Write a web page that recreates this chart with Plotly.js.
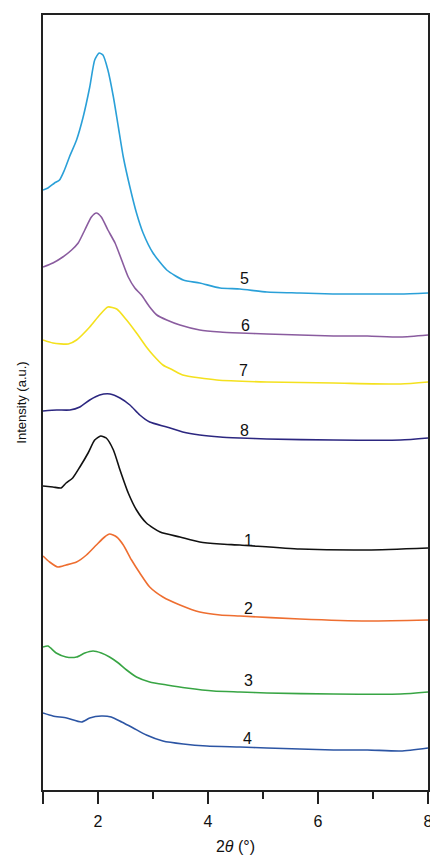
<!DOCTYPE html>
<html>
<head>
<meta charset="utf-8">
<script src="https://cdn.plot.ly/plotly-3.0.1.min.js"></script>
<style>html,body{margin:0;padding:0;background:#fff;}#chart{width:430px;height:855px;}</style>
</head>
<body>
<div id="chart"></div>
<script>
// Sample curves (2θ in degrees, intensity in arbitrary offset units)
const x5 = [1.0,1.09,1.21,1.30,1.39,1.48,1.61,1.73,1.85,1.94,2.02,2.09,2.18,2.28,2.37,2.46,2.58,2.70,2.82,3.00,3.25,3.55,3.85,4.22,4.58,5.07,5.67,6.27,6.89,7.49,8.0];
const y5 = [600,602,607,610,620,633,650,673,703,730,737,735,720,693,663,633,603,577,557,537,520,510,507,502,501,498,497,496,496,496,497];

const x6 = [1.0,1.18,1.36,1.52,1.64,1.76,1.88,1.97,2.06,2.18,2.31,2.43,2.55,2.67,2.79,2.94,3.07,3.25,3.49,3.85,4.22,4.58,5.07,5.67,6.28,6.90,7.50,8.0];
const y6 = [523,527,533,540,547,560,573,577,573,560,547,530,513,502,495,483,475,470,465,460,458,457,456,455,454,454,453,455];

const x7 = [1.0,1.18,1.46,1.61,1.85,2.03,2.18,2.34,2.52,2.70,2.88,3.00,3.18,3.36,3.54,4.16,5.07,6.28,7.50,8.0];
const y7 = [450,447,446,450,463,475,483,481,470,457,443,435,425,420,415,410,408,407,406,408];

const x8 = [1.0,1.25,1.49,1.67,1.85,2.03,2.22,2.40,2.58,2.76,2.94,3.25,3.54,3.85,4.22,4.58,5.07,6.28,7.50,8.0];
const y8 = [379,380,380,383,390,395,396,392,385,375,368,363,358,355,353,352,351,350,350,352];

const x1 = [1.0,1.18,1.33,1.42,1.54,1.67,1.82,1.94,2.05,2.15,2.28,2.40,2.55,2.70,2.88,3.13,3.49,3.85,4.22,4.58,5.67,6.90,8.0];
const y1 = [304,303,302,307,312,323,337,350,354,352,340,320,297,280,267,258,253,248,246,245,241,240,242];

const x2 = [1.0,1.12,1.27,1.42,1.61,1.79,1.97,2.12,2.21,2.34,2.46,2.61,2.76,2.94,3.18,3.49,3.85,4.22,4.58,5.67,6.90,8.0];
const y2 = [234,228,223,225,228,235,245,253,256,253,245,230,217,203,193,185,178,175,174,171,169,170];

const x3 = [1.0,1.09,1.24,1.42,1.61,1.76,1.91,2.06,2.21,2.37,2.52,2.70,2.94,3.25,3.61,4.10,4.58,5.07,6.28,7.50,8.0];
const y3 = [143,144,137,133,133,137,139,137,133,127,120,113,108,105,102,99,98,97,96,96,98];

const x4 = [1.0,1.18,1.43,1.70,1.85,2.06,2.24,2.43,2.64,2.88,3.18,3.55,3.98,4.58,5.07,5.67,6.28,6.90,7.50,8.0];
const y4 = [77,74,72,68,72,74,73,68,62,55,49,46,44,43,42,41,40,40,39,42];

const names = ["5","6","7","8","1","2","3","4"];
const colors = ["#2aa0d8","#8a5c9f","#f4e11e","#2c2780","#111111","#ee6e30","#38a544","#2c55a4"];
const xs = [x5,x6,x7,x8,x1,x2,x3,x4];
const ys = [y5,y6,y7,y8,y1,y2,y3,y4];

// Curve label positions
const labelX = [4.67,4.69,4.64,4.67,4.73,4.73,4.73,4.71];
const labelY = [512,465,420,360,250,182,110,52];

const traces = names.map((n,i)=>({
  x: xs[i], y: ys[i], name: n, type: "scatter", mode: "lines",
  line: {color: colors[i], width: 1.6, shape: "spline", smoothing: 0.6},
  hoverinfo: "skip"
}));

const annotations = names.map((n,i)=>({
  x: labelX[i], y: labelY[i], xref: "x", yref: "y", text: n, showarrow: false,
  font: {family: "Liberation Sans, Arial, sans-serif", size: 16, color: "#111"}
}));

const layout = {
  width: 430, height: 855,
  margin: {l: 43, r: 2, t: 15, b: 65},
  paper_bgcolor: "#fff", plot_bgcolor: "#fff",
  showlegend: false,
  font: {family: "Liberation Sans, Arial, sans-serif", size: 13, color: "#111"},
  xaxis: {
    range: [1, 8], tickvals: [1,2,4,6,8], ticktext: ["","2","4","6","8"],
    ticks: "outside", ticklen: 12, tickwidth: 1.5, tickcolor: "#222",
    ticklabeloverflow: "allow", ticklabelstandoff: 4,
    minor: {tickvals: [3,5,7], ticks: "outside", ticklen: 7, tickwidth: 1.5, tickcolor: "#222"},
    showline: true, linecolor: "#222", linewidth: 1.8, mirror: true,
    showgrid: false, zeroline: false,
    tickfont: {size: 16},
    title: {text: "2<i>θ</i> (°)", font: {size: 16}, standoff: 12}
  },
  yaxis: {
    range: [0, 775], showticklabels: false, ticks: "",
    showline: true, linecolor: "#222", linewidth: 1.8, mirror: true,
    showgrid: false, zeroline: false,
    title: {text: "Intensity (a.u.)", font: {size: 13}, standoff: 12}
  },
  annotations: annotations
};

Plotly.newPlot("chart", traces, layout, {displayModeBar: false, staticPlot: true});
</script>
</body>
</html>
